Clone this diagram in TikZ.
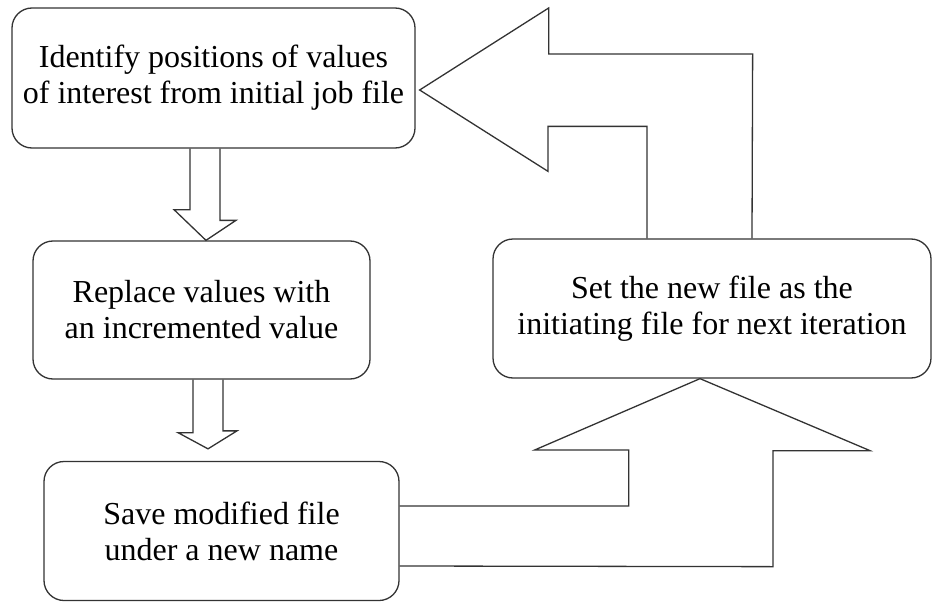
\documentclass[tikz,border=0pt]{standalone}
\usepackage{fontspec}
\setmainfont{Liberation Serif}
\usetikzlibrary{calc}
\tikzset{
  stepbox/.style={draw=black!80, line width=1.3pt, rounded corners=20pt,
    inner sep=0pt, align=center, font=\fontsize{32}{36}\selectfont},
  blockarrow/.style={draw=black!80, line width=1.3pt, line join=miter}
}
\begin{document}
\begin{tikzpicture}[x=1pt,y=-1pt]
  \useasboundingbox (0,0) rectangle (932,602);

  % process steps
  \node[stepbox, minimum width=403pt, minimum height=140pt] (b1) at (213.5,78)
    {Identify positions of values\\of interest from initial job file};
  \node[stepbox, minimum width=337pt, minimum height=138pt] (b2) at (201.5,310)
    {Replace values with\\an incremented value};
  \node[stepbox, minimum width=355pt, minimum height=139pt] (b3) at (221.5,531)
    {Save modified file\\under a new name};
  \node[stepbox, minimum width=438pt, minimum height=139pt] (b4) at (712,308.5)
    {Set the new file as the\\initiating file for next iteration};

  % hollow arrow: step 1 -> step 2
  \draw[blockarrow] ($(b1.south)+(-23.5,0)$) -- ++(0,61) -- ++(-16,0)
    -- ($(b2.north)+(4.5,0)$) -- ++(30,-20) -- ++(-16,0) -- ($(b1.south)+(6.5,0)$);

  % hollow arrow: step 2 -> step 3
  \draw[blockarrow] ($(b2.south)+(-8.5,0)$) -- ++(0,53) -- ++(-15,0)
    -- ($(b3.north)+(-13.5,-12)$) -- ++(29,-18) -- ++(-14,0) -- ($(b2.south)+(21.5,0)$);

  % hollow arrow: step 3 -> step 4
  \draw[blockarrow] ($(b3.east)+(0,-25)$) -- ++(229,0) -- ++(0,-56) -- ++(-94,0)
    -- ($(b4.south)+(-12,0)$) -- ++(170,72) -- ++(-97,0) -- ++(0,116)
    -- ($(b3.east)+(0,35)$);

  % hollow arrow: step 4 -> step 1
  \draw[blockarrow] ($(b4.north)+(-65,0)$) -- ++(0,-112) -- ++(-99,0) -- ++(0,45)
    -- ($(b1.east)+(4,12)$) -- ++(129,-82) -- ++(0,46) -- ++(204,0)
    -- ($(b4.north)+(40,0)$);
\end{tikzpicture}
\end{document}
